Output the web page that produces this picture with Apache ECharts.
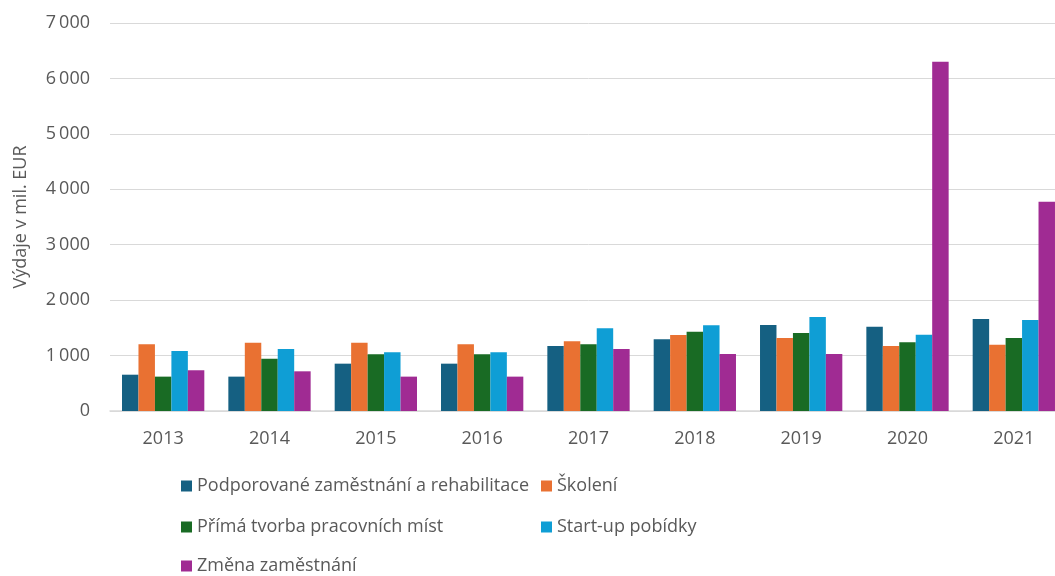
<!DOCTYPE html>
<html>
<head>
<meta charset="utf-8">
<script src="https://cdn.jsdelivr.net/npm/echarts@6/dist/echarts.min.js"></script>
<style>html,body{margin:0;padding:0;background:#fff;overflow:hidden}#c{width:1080px;height:576px}</style>
</head>
<body>
<div id="c"></div>
<script>
const years = ['2013','2014','2015','2016','2017','2018','2019','2020','2021'];
const seriesNames = ['Podporované zaměstnání a rehabilitace','Školení','Přímá tvorba pracovních míst','Start-up pobídky','Změna zaměstnání'];
const podporovane = [655, 620, 854, 854, 1173, 1294, 1552, 1522, 1661];
const skoleni     = [1204, 1233, 1233, 1204, 1258, 1372, 1318, 1173, 1197];
const primaTvorba = [620, 944, 1023, 1023, 1204, 1432, 1408, 1240, 1318];
const startUp     = [1083, 1119, 1060, 1060, 1493, 1547, 1697, 1377, 1643];
const zmena       = [735, 716, 620, 620, 1119, 1029, 1029, 6300, 3773];
const colors = ['#156082','#E97132','#196B24','#0F9ED5','#A02B93'];
const yTitle = 'Výdaje v mil. EUR';

const allData = [podporovane, skoleni, primaTvorba, startUp, zmena];
const font = '"Open Sans", Roboto, sans-serif';
const txt = '#595959';
const legendPos = [
  {left: 181, top: 477},
  {left: 541, top: 477},
  {left: 181, top: 518},
  {left: 541, top: 518},
  {left: 181, top: 557}
];
const chart = echarts.init(document.getElementById('c'), null, {renderer: 'canvas'});
chart.setOption({
  animation: false,
  color: colors,
  textStyle: {fontFamily: font},
  grid: {left: 110, top: 23, width: 957, height: 388, containLabel: false},
  legend: seriesNames.map((n, i) => ({
    data: [n], left: legendPos[i].left, top: legendPos[i].top,
    itemWidth: 11, itemHeight: 11, itemGap: 0, icon: 'rect', padding: 0,
    textStyle: {color: txt, fontSize: 18, fontFamily: font}
  })),
  xAxis: {
    type: 'category', data: years,
    axisLine: {lineStyle: {color: '#d9d9d9', width: 1.5}},
    axisTick: {show: false},
    axisLabel: {color: txt, fontSize: 18, margin: 19, fontFamily: font}
  },
  yAxis: {
    type: 'value', min: 0, max: 7000, interval: 1000,
    name: yTitle, nameLocation: 'middle', nameGap: 80, nameRotate: 90,
    nameTextStyle: {color: txt, fontSize: 18, fontFamily: font},
    axisLine: {show: false}, axisTick: {show: false},
    splitLine: {lineStyle: {color: '#d9d9d9', width: 1}},
    axisLabel: {color: txt, fontSize: 18, margin: 20, fontFamily: font,
      formatter: v => String(v).replace(/\B(?=(\d{3})+(?!\d))/g, '\u2009')}
  },
  series: seriesNames.map((n, i) => ({
    name: n, type: 'bar', data: allData[i],
    barGap: '0%', barCategoryGap: '22.6%',
    itemStyle: {color: colors[i]}
  }))
});
</script>
</body>
</html>
